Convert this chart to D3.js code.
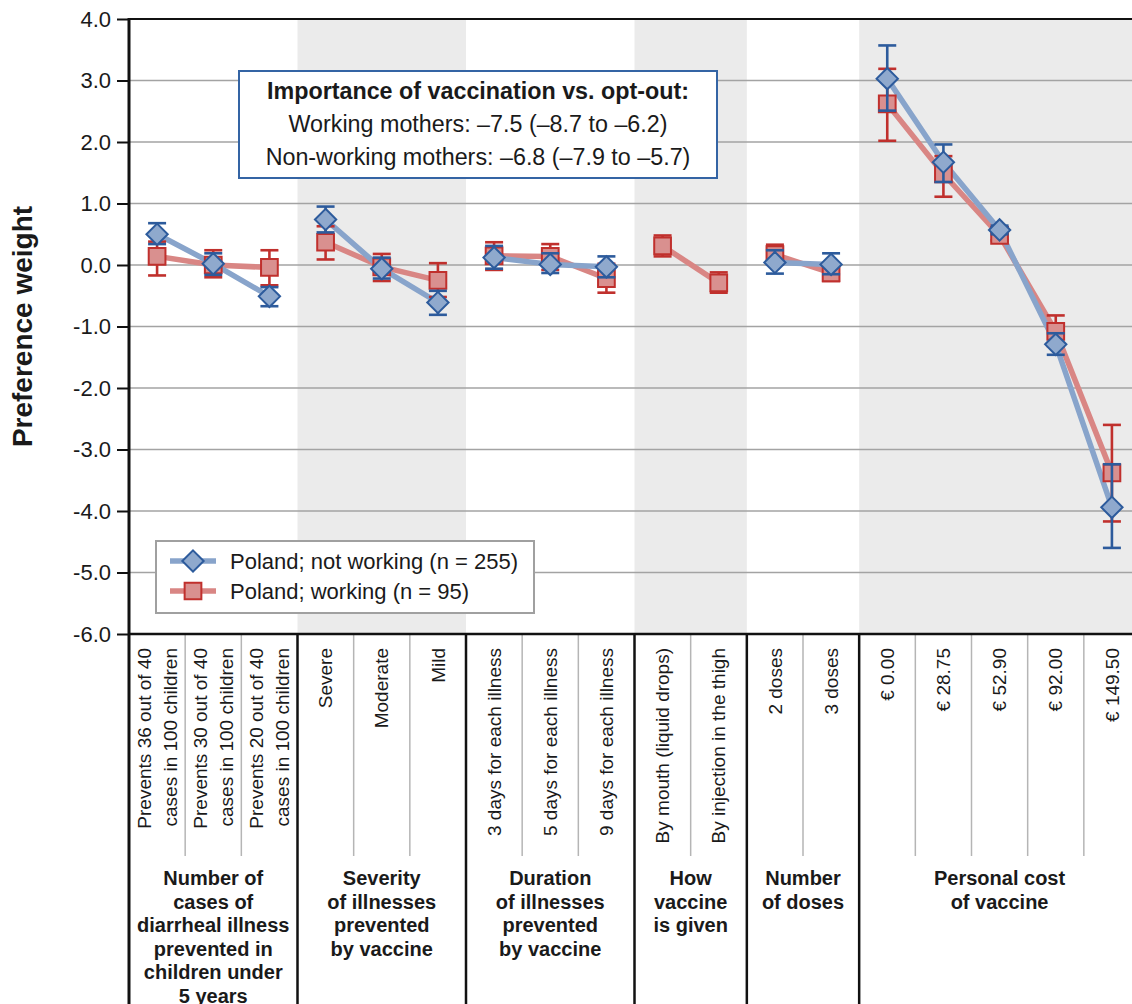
<!DOCTYPE html>
<html>
<head>
<meta charset="utf-8">
<script src="https://cdn.jsdelivr.net/npm/d3@7"></script>
<style>
  html, body { margin: 0; padding: 0; background: #fff; overflow: hidden; }
  svg { display: block; font-family: "Liberation Sans", Arial, sans-serif; }
</style>
</head>
<body>
<svg id="chart" width="1132" height="1004"></svg>
<script>
// attribute groups and their levels
const groupNames = [
  ["Number of", "cases of", "diarrheal illness", "prevented in", "children under", "5 years"],
  ["Severity", "of illnesses", "prevented", "by vaccine"],
  ["Duration", "of illnesses", "prevented", "by vaccine"],
  ["How", "vaccine", "is given"],
  ["Number", "of doses"],
  ["Personal cost", "of vaccine"]
];
const levelGroup = [0, 0, 0, 1, 1, 1, 2, 2, 2, 3, 3, 4, 4, 5, 5, 5, 5, 5];
const levelNames = [
  ["Prevents 36 out of 40", "cases in 100 children"],
  ["Prevents 30 out of 40", "cases in 100 children"],
  ["Prevents 20 out of 40", "cases in 100 children"],
  ["Severe"], ["Moderate"], ["Mild"],
  ["3 days for each illness"], ["5 days for each illness"], ["9 days for each illness"],
  ["By mouth (liquid drops)"], ["By injection in the thigh"],
  ["2 doses"], ["3 doses"],
  ["\u20ac 0.00"], ["\u20ac 28.75"], ["\u20ac 52.90"], ["\u20ac 92.00"], ["\u20ac 149.50"]
];

// Poland; not working (n = 255)
const notWorking     = [0.50, 0.02, -0.51, 0.74, -0.06, -0.61, 0.12, 0.01, -0.03, null, null, 0.04, 0.01, 3.03, 1.67, 0.57, -1.29, -3.94];
const notWorkingLow  = [0.34, -0.16, -0.67, 0.53, -0.22, -0.81, -0.06, -0.13, -0.20, null, null, -0.14, -0.15, 2.51, 1.35, 0.50, -1.46, -4.60];
const notWorkingHigh = [0.68, 0.19, -0.36, 0.95, 0.12, -0.42, 0.31, 0.19, 0.14, null, null, 0.24, 0.19, 3.57, 1.96, 0.64, -1.11, -3.24];

// Poland; working (n = 95)
const working     = [0.14, 0.00, -0.04, 0.37, -0.03, -0.25, 0.15, 0.14, -0.22, 0.31, -0.29, 0.17, -0.13, 2.62, 1.48, 0.48, -1.08, -3.38];
const workingLow  = [-0.17, -0.20, -0.33, 0.09, -0.26, -0.52, -0.08, -0.08, -0.45, 0.14, -0.45, 0.01, -0.26, 2.02, 1.11, 0.40, -1.32, -4.17];
const workingHigh = [0.38, 0.24, 0.24, 0.63, 0.18, 0.03, 0.37, 0.34, 0.02, 0.48, -0.12, 0.33, 0.02, 3.19, 1.77, 0.57, -0.82, -2.60];

const yTicks = d3.range(-6, 4.001, 1);
const legendLabels = ["Poland; not working (n = 255)", "Poland; working (n = 95)"];
const noteLines = [
  "Importance of vaccination vs. opt-out:",
  "Working mothers: \u20137.5 (\u20138.7 to \u20136.2)",
  "Non-working mothers: \u20136.8 (\u20137.9 to \u20135.7)"
];

const svg = d3.select("#chart");
const plotLeft = 129, plotRight = 1140, plotTop = 19, plotBottom = 634, tableBottom = 1004;

const x = d3.scaleBand().domain(d3.range(levelNames.length)).range([plotLeft, plotRight]);
const y = d3.scaleLinear().domain([-6, 4]).range([plotBottom, plotTop]);

// group extents in pixels
const groupSpans = groupNames.map((g, gi) => {
  const idx = levelGroup.map((v, i) => v === gi ? i : -1).filter(i => i >= 0);
  return { gi, x0: x(idx[0]), x1: x(idx[idx.length - 1]) + x.bandwidth() };
});

// shaded bands for every second group
svg.append("g").selectAll("rect")
  .data(groupSpans.filter(d => d.gi % 2 === 1))
  .join("rect")
  .attr("x", d => d.x0).attr("y", plotTop)
  .attr("width", d => d.x1 - d.x0).attr("height", plotBottom - plotTop)
  .attr("fill", "#ebebeb");

// gridlines
svg.append("g").selectAll("line")
  .data(yTicks.filter(t => t > -6 && t < 4))
  .join("line")
  .attr("x1", plotLeft).attr("x2", plotRight)
  .attr("y1", d => y(d)).attr("y2", d => y(d))
  .attr("stroke", "#a3a3a3").attr("stroke-width", 1.6);

// top border
svg.append("line").attr("x1", plotLeft).attr("x2", plotRight)
  .attr("y1", plotTop).attr("y2", plotTop).attr("stroke", "#111").attr("stroke-width", 2);

// y axis
const yAxis = svg.append("g")
  .attr("transform", `translate(${plotLeft},0)`)
  .call(d3.axisLeft(y).tickValues(yTicks).tickFormat(d => d.toFixed(1)).tickSize(12).tickPadding(6));
yAxis.select(".domain").remove();
yAxis.selectAll(".tick line").attr("stroke", "#111").attr("stroke-width", 2);
yAxis.selectAll(".tick text").attr("font-size", 22).attr("fill", "#1a1a1a")
  .attr("font-family", "Liberation Sans, Arial, sans-serif");

svg.append("text")
  .attr("transform", `translate(32,${(plotTop + plotBottom) / 2}) rotate(-90)`)
  .attr("text-anchor", "middle")
  .attr("font-size", 28).attr("font-weight", "bold").attr("fill", "#1a1a1a")
  .text("Preference weight");

// table below the plot: light separators between levels
svg.append("g").selectAll("line")
  .data(d3.range(1, levelNames.length).filter(i => levelGroup[i] === levelGroup[i - 1]))
  .join("line")
  .attr("x1", i => x(i)).attr("x2", i => x(i))
  .attr("y1", plotBottom).attr("y2", 856)
  .attr("stroke", "#b5b5b5").attr("stroke-width", 1.5);

// level labels (rotated)
const lvl = svg.append("g").selectAll("g")
  .data(levelNames)
  .join("g")
  .attr("transform", (d, i) => `translate(${x(i) + x.bandwidth() / 2},648)`);
lvl.each(function (lines) {
  const n = lines.length;
  d3.select(this).selectAll("text")
    .data(lines)
    .join("text")
    .attr("transform", (t, j) => `translate(${(j - (n - 1) / 2) * 26},0) rotate(-90)`)
    .attr("text-anchor", "end")
    .attr("dy", "0.35em")
    .attr("font-size", 19).attr("fill", "#1a1a1a")
    .text(t => t);
});

// group labels
const grp = svg.append("g").selectAll("text")
  .data(groupSpans)
  .join("text")
  .attr("text-anchor", "middle")
  .attr("font-size", 20).attr("font-weight", "bold").attr("fill", "#1a1a1a");
grp.selectAll("tspan")
  .data(d => groupNames[d.gi].map(t => ({ t, cx: (d.x0 + d.x1) / 2 })))
  .join("tspan")
  .attr("x", d => d.cx)
  .attr("y", (d, j) => 885 + j * 23.6)
  .text(d => d.t);

// group boundaries through plot + table
svg.append("g").selectAll("line")
  .data(groupSpans.slice(1))
  .join("line")
  .attr("x1", d => d.x0).attr("x2", d => d.x0)
  .attr("y1", plotBottom).attr("y2", tableBottom)
  .attr("stroke", "#111").attr("stroke-width", 2.5);

// axes lines
svg.append("line").attr("x1", plotLeft).attr("x2", plotLeft)
  .attr("y1", plotTop - 1).attr("y2", tableBottom)
  .attr("stroke", "#111").attr("stroke-width", 3);
svg.append("line").attr("x1", plotLeft).attr("x2", plotRight)
  .attr("y1", plotBottom).attr("y2", plotBottom)
  .attr("stroke", "#111").attr("stroke-width", 2.5);

// series
const series = [
  { vals: working, lo: workingLow, hi: workingHigh, line: "#d98684", stroke: "#c0302d", fill: "#d9908f", shape: "square" },
  { vals: notWorking, lo: notWorkingLow, hi: notWorkingHigh, line: "#88a4cb", stroke: "#2d5b9c", fill: "#8fa9cd", shape: "diamond" }
];
const cx = i => x(i) + x.bandwidth() / 2;

series.forEach(s => {
  const pts = s.vals.map((v, i) => ({ i, v, g: levelGroup[i] }));
  const line = d3.line().x(d => cx(d.i)).y(d => y(d.v));
  const byGroup = d3.groups(pts.filter(d => d.v != null), d => d.g).map(e => e[1]);
  svg.append("g").selectAll("path")
    .data(byGroup)
    .join("path")
    .attr("d", line)
    .attr("fill", "none").attr("stroke", s.line).attr("stroke-width", 5.5)
    .attr("stroke-linejoin", "round");
});

series.forEach(s => {
  const pts = s.vals.map((v, i) => ({ i, v, lo: s.lo[i], hi: s.hi[i] })).filter(d => d.v != null);
  const g = svg.append("g");
  const eb = g.selectAll("g.eb").data(pts).join("g").attr("class", "eb")
    .attr("stroke", s.stroke).attr("stroke-width", 2.6);
  eb.append("line").attr("x1", d => cx(d.i)).attr("x2", d => cx(d.i))
    .attr("y1", d => y(d.lo)).attr("y2", d => y(d.hi));
  eb.append("line").attr("x1", d => cx(d.i) - 9).attr("x2", d => cx(d.i) + 9)
    .attr("y1", d => y(d.lo)).attr("y2", d => y(d.lo));
  eb.append("line").attr("x1", d => cx(d.i) - 9).attr("x2", d => cx(d.i) + 9)
    .attr("y1", d => y(d.hi)).attr("y2", d => y(d.hi));
  const sym = s.shape === "square"
    ? d3.symbol().type(d3.symbolSquare).size(280)
    : d3.symbol().type(d3.symbolDiamond2).size(290);
  g.selectAll("path.m").data(pts).join("path").attr("class", "m")
    .attr("transform", d => `translate(${cx(d.i)},${y(d.v)})`)
    .attr("d", sym)
    .attr("fill", s.fill).attr("stroke", s.stroke).attr("stroke-width", 2);
});

// annotation box
const note = svg.append("g");
note.append("rect").attr("x", 239).attr("y", 71).attr("width", 478).attr("height", 107)
  .attr("fill", "#fff").attr("stroke", "#3464a4").attr("stroke-width", 2);
note.selectAll("text").data(noteLines).join("text")
  .attr("x", 478).attr("y", (d, i) => 99 + i * 33)
  .attr("text-anchor", "middle").attr("font-size", 23.3).attr("fill", "#1a1a1a")
  .attr("font-weight", (d, i) => i === 0 ? "bold" : "normal")
  .text(d => d);

// legend
const legend = svg.append("g");
legend.append("rect").attr("x", 156).attr("y", 541).attr("width", 378).attr("height", 72)
  .attr("fill", "#fff").attr("stroke", "#a0a0a0").attr("stroke-width", 2);
const legSeries = [series[1], series[0]];
legSeries.forEach((s, k) => {
  const ly = 561 + k * 30;
  legend.append("line").attr("x1", 170).attr("x2", 216).attr("y1", ly).attr("y2", ly)
    .attr("stroke", s.line).attr("stroke-width", 5.5);
  const sym = s.shape === "square"
    ? d3.symbol().type(d3.symbolSquare).size(280)
    : d3.symbol().type(d3.symbolDiamond2).size(290);
  legend.append("path").attr("transform", `translate(193,${ly})`).attr("d", sym)
    .attr("fill", s.fill).attr("stroke", s.stroke).attr("stroke-width", 2);
  legend.append("text").attr("x", 230).attr("y", ly).attr("dy", "0.35em")
    .attr("font-size", 22).attr("fill", "#1a1a1a").text(legendLabels[k]);
});
</script>
</body>
</html>
